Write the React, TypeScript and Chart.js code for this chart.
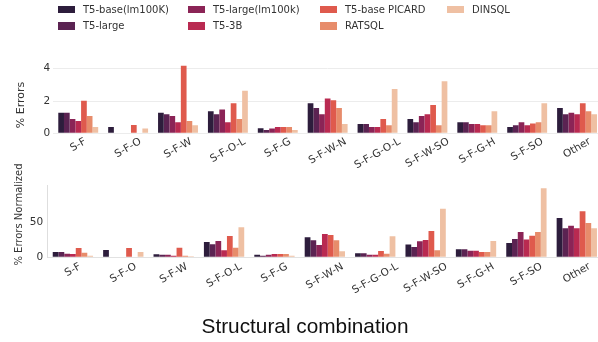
import React, { useEffect, useRef } from "react";
import { Chart, registerables } from "chart.js";

Chart.register(...registerables);

// ---------- data ----------
const categories = [
  "S-F", "S-F-O", "S-F-W", "S-F-O-L", "S-F-G", "S-F-W-N",
  "S-F-G-O-L", "S-F-W-SO", "S-F-G-H", "S-F-SO", "Other",
];
const seriesNames = [
  "T5-base(lm100K)", "T5-large", "T5-large(lm100k)", "T5-3B",
  "T5-base PICARD", "RATSQL", "DINSQL",
];
const seriesColors = [
  "#2d1d3c", "#5b2352", "#8b2456", "#b92a51", "#df5a4d", "#e78c6b", "#efc0a3",
];

// % Errors (top panel)
const errT5BaseLm = [1.28, 0.39, 1.28, 1.36, 0.31, 1.86, 0.58, 0.89, 0.68, 0.39, 1.57];
const errT5Large = [1.28, 0, 1.18, 1.18, 0.21, 1.57, 0.58, 0.68, 0.68, 0.5, 1.18];
const errT5LargeLm = [0.89, 0, 1.07, 1.47, 0.29, 1.18, 0.39, 1.07, 0.58, 0.68, 1.28];
const errT5_3B = [0.76, 0, 0.68, 0.68, 0.39, 2.15, 0.39, 1.18, 0.58, 0.5, 1.18];
const errPicard = [2.02, 0.52, 4.19, 1.86, 0.39, 2.04, 0.89, 1.75, 0.5, 0.6, 1.86];
const errRatsql = [1.07, 0, 0.76, 0.89, 0.39, 1.57, 0.5, 0.5, 0.5, 0.68, 1.36];
const errDinsql = [0.39, 0.29, 0.5, 2.64, 0.21, 0.58, 2.75, 3.22, 1.36, 1.86, 1.18];

// % Errors Normalized (bottom panel)
const normT5BaseLm = [7.6, 10.4, 4.2, 21.7, 3.7, 28.3, 5.7, 18.0, 11.3, 20.3, 55.5];
const normT5Large = [7.6, 0, 3.7, 18.4, 2.3, 24.0, 5.7, 14.6, 11.3, 25.8, 41.2];
const normT5LargeLm = [5.2, 0, 3.7, 23.1, 3.7, 17.5, 3.7, 22.6, 9.4, 35.8, 44.8];
const normT5_3B = [4.7, 0, 2.3, 9.9, 4.7, 33.0, 3.7, 24.5, 9.4, 25.3, 41.2];
const normPicard = [13.2, 13.2, 13.7, 30.2, 4.7, 31.6, 9.0, 37.3, 7.6, 30.6, 65.4];
const normRatsql = [6.6, 0, 2.3, 13.7, 4.7, 24.0, 5.2, 9.9, 7.6, 35.8, 48.6];
const normDinsql = [2.3, 7.6, 1.4, 42.4, 2.3, 8.5, 29.7, 68.9, 23.1, 97.9, 41.2];

const topSeries = [errT5BaseLm, errT5Large, errT5LargeLm, errT5_3B, errPicard, errRatsql, errDinsql];
const bottomSeries = [normT5BaseLm, normT5Large, normT5LargeLm, normT5_3B, normPicard, normRatsql, normDinsql];

const topTicks = [0, 2, 4];
const bottomTicks = [0, 50];
const topMax = 4.4;
const bottomMax = 101;

const topYTitle = "% Errors";
const bottomYTitle = "% Errors Normalized";
const xTitle = "Structural combination";

// ---------- styling ----------
const FONT = '"DejaVu Sans", sans-serif';
const TICK_SIZE = 10.5;
const TEXT_COLOR = "#333333";
const CANVAS_W = 620;
const CANVAS_H = 342;

type PanelCfg = {
  series: number[][];
  ticks: number[];
  max: number;
  left: number;
  top: number;
  bottom: number;
  tickPad: number;
  grid: boolean;
  yTitle: string;
  yTitleSize: number;
  yTitleX: number;
  yTitleY: number;
  labelPad: number;
  showXTitle: boolean;
};

function makeTextPlugin(cfg: PanelCfg) {
  return {
    id: "customText",
    afterDraw(chart: any) {
      const ctx = chart.ctx as CanvasRenderingContext2D;
      const xs = chart.scales.x;
      const area = chart.chartArea;
      const ang = Math.PI / 6;
      ctx.save();
      ctx.fillStyle = TEXT_COLOR;
      ctx.font = `${TICK_SIZE}px ${FONT}`;
      const labels: string[] = chart.data.labels;
      labels.forEach((lab, i) => {
        const x = xs.getPixelForTick(i);
        const w = ctx.measureText(lab).width;
        const h = TICK_SIZE;
        const H = w * Math.sin(ang) + h * Math.cos(ang);
        ctx.save();
        ctx.translate(x, area.bottom + cfg.labelPad + H / 2);
        ctx.rotate(-ang);
        ctx.textAlign = "center";
        ctx.textBaseline = "middle";
        ctx.fillText(lab, 0, 0);
        ctx.restore();
      });
      // y title
      ctx.save();
      ctx.font = `${cfg.yTitleSize}px ${FONT}`;
      ctx.translate(cfg.yTitleX, cfg.yTitleY);
      ctx.rotate(-Math.PI / 2);
      ctx.textAlign = "center";
      ctx.textBaseline = "middle";
      ctx.fillText(cfg.yTitle, 0, 0);
      ctx.restore();
      if (cfg.showXTitle) {
        ctx.save();
        ctx.font = `20.8px "Liberation Sans", Arial, sans-serif`;
        ctx.fillStyle = "#111111";
        ctx.textAlign = "center";
        ctx.textBaseline = "alphabetic";
        ctx.fillText(xTitle, 305, 333);
        ctx.restore();
      }
      ctx.restore();
    },
  };
}

function Panel({ cfg }: { cfg: PanelCfg }) {
  const ref = useRef<HTMLCanvasElement>(null);
  useEffect(() => {
    if (!ref.current) return;
    const chart = new Chart(ref.current, {
      type: "bar",
      data: {
        labels: categories,
        datasets: cfg.series.map((vals, i) => ({
          label: seriesNames[i],
          data: vals,
          backgroundColor: seriesColors[i],
          borderWidth: 0,
          categoryPercentage: 0.8,
          barPercentage: 1.0,
        })),
      },
      options: {
        animation: false,
        responsive: false,
        devicePixelRatio: 1,
        events: [],
        layout: {
          padding: {
            left: 0,
            right: CANVAS_W - 602,
            top: cfg.top,
            bottom: CANVAS_H - cfg.bottom,
          },
        },
        plugins: {
          legend: { display: false },
          tooltip: { enabled: false },
          title: { display: false },
        },
        scales: {
          x: {
            type: "category",
            offset: true,
            grid: { display: cfg.grid ? false : true, color: "rgba(0,0,0,0)", drawTicks: false },
            border: cfg.grid
              ? { display: false }
              : { display: true, color: "#e2e2e2", width: 1 },
            ticks: { display: false },
            afterFit: (s: any) => {
              s.height = 0;
            },
          },
          y: {
            type: "linear",
            min: 0,
            max: cfg.max,
            grid: cfg.grid
              ? { display: true, color: "#ececec", lineWidth: 1, drawTicks: false }
              : { display: true, color: "rgba(0,0,0,0)", drawTicks: false },
            border: cfg.grid
              ? { display: false }
              : { display: true, color: "#dedede", width: 1 },
            ticks: {
              color: TEXT_COLOR,
              font: { family: FONT, size: TICK_SIZE },
              padding: cfg.tickPad,
              autoSkip: false,
            },
            afterBuildTicks: (s: any) => {
              s.ticks = cfg.ticks.map((v) => ({ value: v }));
            },
            afterFit: (s: any) => {
              s.width = cfg.left;
            },
          },
        },
      },
      plugins: [makeTextPlugin(cfg)],
    } as any);
    return () => chart.destroy();
  }, [cfg]);
  return (
    <canvas
      ref={ref}
      width={CANVAS_W}
      height={CANVAS_H}
      style={{ position: "absolute", left: 0, top: 0, width: CANVAS_W, height: CANVAS_H, display: "block" }}
    />
  );
}

const topCfg: PanelCfg = {
  series: topSeries,
  ticks: topTicks,
  max: topMax,
  left: 53.3,
  top: 133.3 - topMax * 16.15,
  bottom: 133.3,
  tickPad: 3,
  grid: true,
  yTitle: topYTitle,
  yTitleSize: 11,
  yTitleX: 21,
  yTitleY: 105,
  labelPad: 3,
  showXTitle: false,
};

const bottomCfg: PanelCfg = {
  series: bottomSeries,
  ticks: bottomTicks,
  max: bottomMax,
  left: 47.7,
  top: 257.3 - bottomMax * 0.706,
  bottom: 257.3,
  tickPad: 4.5,
  grid: false,
  yTitle: bottomYTitle,
  yTitleSize: 10,
  yTitleX: 19.5,
  yTitleY: 214.5,
  labelPad: 4,
  showXTitle: true,
};

// legend layout: matplotlib ncol=4, column-major
const legendCols = [58, 188, 320, 447];
const legendRows = [9.5, 26];

function Legend() {
  return (
    <>
      {seriesNames.map((name, i) => {
        const col = Math.floor(i / 2);
        const row = i % 2;
        const x = legendCols[col];
        const y = legendRows[row];
        return (
          <div key={name}>
            <div
              style={{
                position: "absolute",
                left: x,
                top: y - 3.7,
                width: 17,
                height: 7.4,
                background: seriesColors[i],
              }}
            />
            <div
              style={{
                position: "absolute",
                left: x + 25,
                top: y - 7,
                height: 14,
                lineHeight: "14px",
                fontFamily: FONT,
                fontSize: 10,
                color: TEXT_COLOR,
                whiteSpace: "nowrap",
              }}
            >
              {name}
            </div>
          </div>
        );
      })}
    </>
  );
}

export default function App() {
  return (
    <div
      style={{
        position: "fixed",
        left: 0,
        top: 0,
        width: 598,
        height: 342,
        overflow: "hidden",
        background: "#ffffff",
      }}
    >
      <Panel cfg={topCfg} />
      <Panel cfg={bottomCfg} />
      <Legend />
    </div>
  );
}
